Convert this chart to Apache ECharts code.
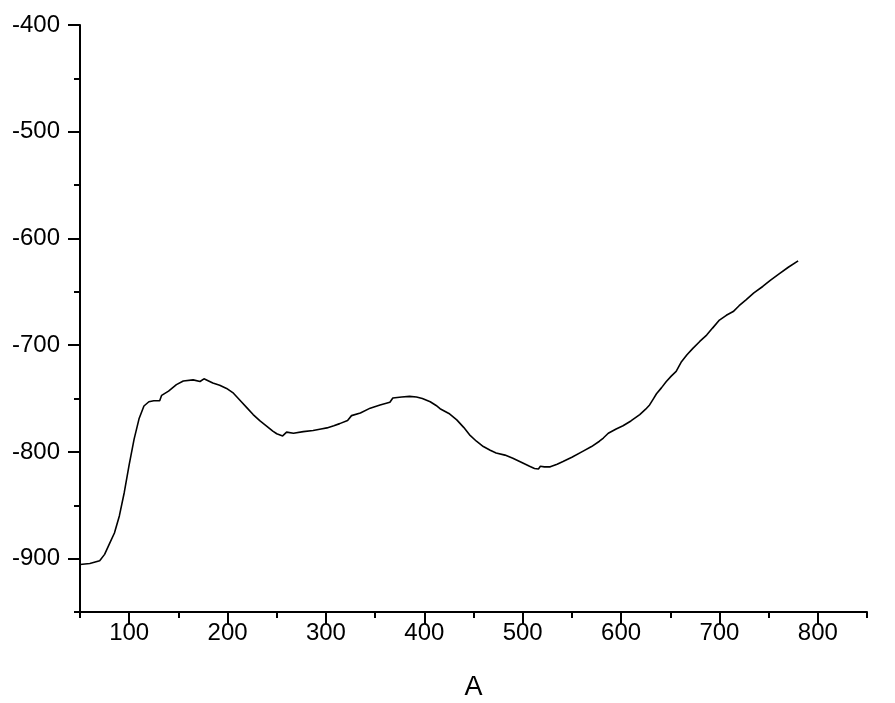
<!DOCTYPE html>
<html>
<head>
<meta charset="utf-8">
<script src="https://cdn.jsdelivr.net/npm/echarts@6/dist/echarts.min.js"></script>
<style>
  html, body { margin: 0; padding: 0; background: #fff; }
  #chart { width: 895px; height: 703px; }
</style>
</head>
<body>
<div id="chart"></div>
<script>
  // curve
  var xs = [50, 60, 70, 75, 80, 85, 90, 95, 100, 105, 110, 115, 120, 125, 131, 133, 140, 148, 155, 165,
    172, 174, 176, 185, 192, 199, 206, 214, 220, 226, 233, 240, 246, 250, 256, 258, 260, 267, 277, 287,
    295, 301, 308, 314, 322, 326, 335, 345, 355, 365, 368, 377, 385, 392, 398, 406, 412, 416, 418, 425,
    433, 440, 446, 453, 460, 467, 473, 474, 482, 490, 498, 507, 512, 516, 518, 522, 528, 535, 541, 550,
    561, 570, 578, 582, 587, 595, 602, 610, 619, 625, 629, 633, 636, 641, 646, 651, 656, 661, 667, 673,
    680, 687, 693, 700, 707, 714, 720, 727, 735, 744, 752, 761, 770, 780]
  var ys = [-905.5, -904.5, -902, -896, -886, -876, -860, -838, -812, -788, -769, -757, -753, -752, -752, -747, -743, -737, -733.5, -732.5,
    -734, -734.5, -731.5, -735.5, -737.5, -740.5, -745, -753, -759, -765, -771, -776, -780.5, -783, -785, -785, -781.5, -782.5, -781, -780,
    -778.5, -777.5, -775.5, -773.5, -770.5, -766, -763.5, -759, -756, -753.5, -749.5, -748.5, -748, -748.5, -750, -753, -756.5, -759.5, -758.5, -764,
    -770, -777, -784, -790, -795, -798.5, -801, -799.5, -803, -806, -809.5, -813.5, -815.5, -816, -813.5, -814, -814, -811.5, -809, -805,
    -799.5, -795, -790, -787, -782.5, -778.5, -775.5, -771, -765, -760, -756, -750, -745.5, -740, -734, -729, -724.5, -716, -709, -703,
    -696.5, -690.5, -684, -676.5, -672, -668.5, -663, -657.5, -651, -645, -639, -633, -627, -621]

  var xTicks = [100, 200, 300, 400, 500, 600, 700, 800]
  var xMinorTicks = [50, 150, 250, 350, 450, 550, 650, 750, 850]
  var yTicks = [-900, -800, -700, -600, -500, -400]
  var yMinorTicks = [-950, -850, -750, -650, -550, -450]

  var font = 'Liberation Sans, Arial, sans-serif'

  var myChart = echarts.init(document.getElementById('chart'))
  myChart.setOption({
    animation: false,
    grid: { left: 80, right: 28, top: 25, bottom: 91, containLabel: false, outerBoundsMode: 'none' },
    xAxis: [{
      type: 'value',
      min: 50,
      max: 850,
      name: 'A',
      nameLocation: 'middle',
      nameGap: 62,
      nameTextStyle: { color: '#000', fontSize: 27, fontFamily: font },
      axisLine: { show: true, lineStyle: { color: '#000', width: 2 } },
      axisTick: { show: true, length: 12, customValues: xTicks, lineStyle: { color: '#000', width: 2 } },
      axisLabel: { customValues: xTicks, color: '#000', fontSize: 24, fontFamily: font, margin: 9 },
      splitLine: { show: false }
    }, {
      type: 'value',
      min: 50,
      max: 850,
      position: 'bottom',
      axisLine: { show: false },
      axisTick: { show: true, length: 6, customValues: xMinorTicks, lineStyle: { color: '#000', width: 2 } },
      axisLabel: { show: false },
      splitLine: { show: false }
    }],
    yAxis: [{
      type: 'value',
      min: -950,
      max: -400,
      axisLine: { show: true, lineStyle: { color: '#000', width: 2 } },
      axisTick: { show: true, length: 12, customValues: yTicks, lineStyle: { color: '#000', width: 2 } },
      axisLabel: { customValues: yTicks, color: '#000', fontSize: 24, fontFamily: font, margin: 20 },
      splitLine: { show: false }
    }, {
      type: 'value',
      min: -950,
      max: -400,
      position: 'left',
      axisLine: { show: false },
      axisTick: { show: true, length: 6, customValues: yMinorTicks, lineStyle: { color: '#000', width: 2 } },
      axisLabel: { show: false },
      splitLine: { show: false }
    }],
    series: [{
      type: 'line',
      data: xs.map(function (x, i) { return [x, ys[i]] }),
      showSymbol: false,
      smooth: false,
      lineStyle: { color: '#000', width: 1.6 }
    }]
  })
</script>
</body>
</html>
